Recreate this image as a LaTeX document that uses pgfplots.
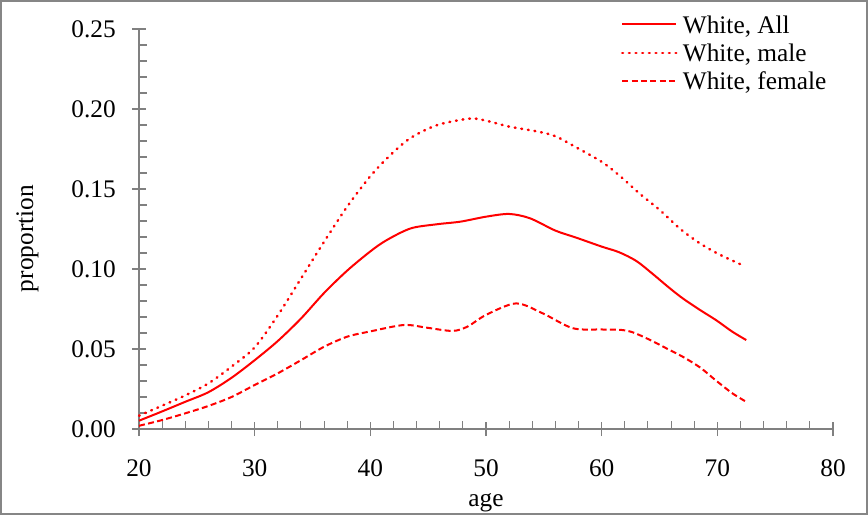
\documentclass[border=0pt]{standalone}
\usepackage{pgfplots}
\pgfplotsset{compat=1.18}
\usepackage{fontspec}
\setmainfont{Liberation Serif}
\definecolor{axgray}{RGB}{128,128,128}
\definecolor{framegray}{RGB}{134,134,134}

\begin{document}
\fontsize{19pt}{23pt}\selectfont
\begin{tikzpicture}
\useasboundingbox (0,0) rectangle (651pt,386.25pt);
\draw[framegray, line width=1.5pt] (0.75pt,0.75pt) rectangle (650.25pt,385.5pt);
\begin{axis}[
    at={(104.25pt,64.5pt)}, anchor=south west,
    scale only axis,
    width=520.5pt, height=300pt,
    xmin=20, xmax=80, ymin=0, ymax=0.25,
    xtick={20,30,...,80},
    ytick={0,0.05,...,0.25},
    minor x tick num=4, minor y tick num=4,
    axis lines=left,
    axis line style={axgray, line width=0.9pt, -},
    every tick/.style={axgray, line width=0.8pt},
    tick align=inside,
    major tick length=5.25pt, minor tick length=6pt,
    extra x ticks={20,30,...,80}, extra x tick labels={},
    extra y ticks={0,0.05,...,0.25}, extra y tick labels={},
    extra x tick style={tick align=outside, major tick length=5.25pt},
    extra y tick style={tick align=outside, major tick length=5.25pt},
    /pgf/number format/assume math mode=true,
    yticklabel style={/pgf/number format/.cd, fixed, fixed zerofill, precision=2,
        /tikz/.cd, anchor=east, inner sep=0pt, xshift=-17.25pt},
    xticklabel style={anchor=base, inner sep=0pt, yshift=-35.6pt},
    xlabel={age}, ylabel={proportion},
    every axis x label/.style={at={(axis description cs:0.5,-0.1925)}, anchor=base},
    every axis y label/.style={at={(axis description cs:-0.1527,0.476)}, rotate=90, anchor=base},
    clip=false,
    legend cell align=left,
    legend style={draw=none, fill=none, inner sep=0pt, outer sep=0pt,
        at={(axis description cs:0.6945,1.033)}, anchor=north west,
        row sep=4.25pt, column sep=4pt,
        nodes={inner sep=0pt, text height=13pt, text depth=4pt}},
    legend image code/.code={\draw[#1] (0pt,2pt) -- (40.5pt,2pt);},
]
\addplot[red, line width=1.5pt, smooth] coordinates {
(20,0.0052) (22,0.011) (24,0.017) (26,0.023) (28,0.032) (30,0.043)
(32,0.055) (34,0.069) (36,0.085) (38,0.099) (40,0.111) (41.4,0.118)
(43.5,0.1254) (45.8,0.128) (47.8,0.1296) (50,0.1327) (52,0.1344)
(53.8,0.1317) (56,0.124) (57.8,0.1196) (60,0.114) (61.5,0.1105)
(63,0.105) (64.4,0.097) (65.8,0.0885) (67,0.0817) (68.5,0.0744)
(69.9,0.068) (71.3,0.0608) (72.5,0.0556)
};
\addlegendentry{White, All}
\addplot[red, line width=1.9pt, smooth, line cap=round, dash pattern=on 0.6pt off 4.4pt] coordinates {
(20,0.0083) (22,0.0146) (24,0.021) (26,0.0285) (28,0.039) (30,0.051)
(32,0.071) (34,0.094) (36,0.117) (38,0.139) (40,0.158) (41.7,0.171)
(43.5,0.182) (45.8,0.190) (48.6,0.194) (50,0.1927) (52,0.189)
(54.4,0.186) (56,0.183) (57.8,0.176) (60,0.167) (61.6,0.158)
(63.3,0.147) (65,0.137) (66.8,0.125) (68.5,0.116) (70.2,0.109)
(72.3,0.102)
};
\addlegendentry{White, male}
\addplot[red, line width=1.5pt, smooth, dash pattern=on 4.5pt off 2.5pt] coordinates {
(20,0.002) (22,0.0056) (24,0.0098) (26,0.0144) (28,0.020) (30,0.0275)
(32,0.0348) (34,0.043) (36,0.0514) (38,0.0577) (40,0.061) (42.9,0.065)
(44.9,0.0633) (47.1,0.0613) (48.4,0.064) (50,0.0713) (52.6,0.0785)
(54.9,0.0723) (57.5,0.063) (60,0.0622) (61.6,0.062) (62.7,0.0604)
(64.2,0.0556) (65.6,0.0504) (67,0.0452) (68.5,0.0385) (69.9,0.0302)
(71.3,0.0223) (72.5,0.017)
};
\addlegendentry{White, female}
\end{axis}
\end{tikzpicture}
\end{document}
